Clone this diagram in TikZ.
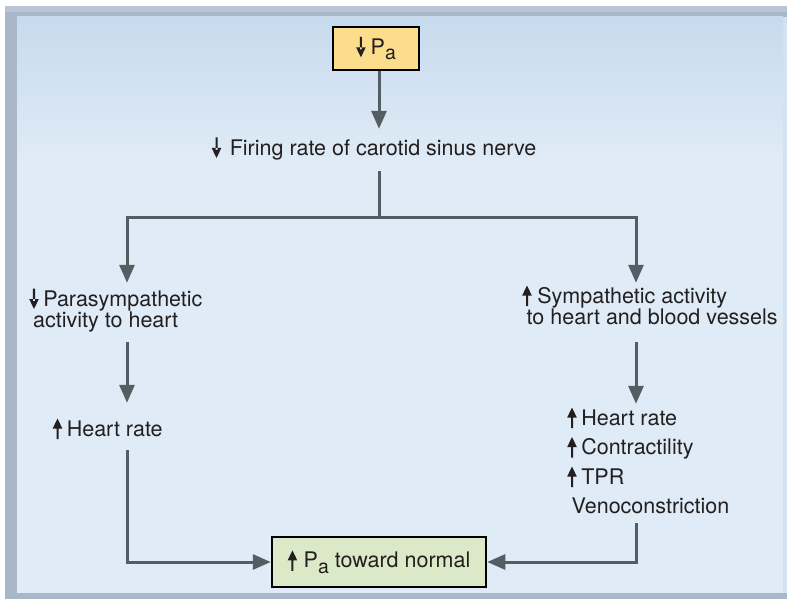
\documentclass[tikz,border=0pt]{standalone}
\usepackage{fontspec}
\setmainfont{TeX Gyre Heros}
\usetikzlibrary{arrows.meta}

\definecolor{ink}{HTML}{231F20}
\definecolor{flowcol}{HTML}{535D64}
\definecolor{paneltop}{HTML}{C8DAEE}
\definecolor{panel}{HTML}{DFEBF6}
\definecolor{rim}{HTML}{A9B8C8}
\definecolor{rimlight}{HTML}{B7C5D4}
\definecolor{rimright}{HTML}{D3E1F0}
\definecolor{startfill}{HTML}{FCDD8B}
\definecolor{endfill}{HTML}{DCE9C9}

% small up / down arrows used inside the labels
\newsavebox\upglyph
\newsavebox\downglyph
% lowered "a" of P_a
\newcommand\subA{\raisebox{-5.5pt}{\fontsize{19.5}{19.5}\selectfont a}}

\begin{document}
\sbox\upglyph{\begin{pgfpicture}%
  \pgfsetfillcolor{ink}%
  \pgfpathrectangle{\pgfpoint{-1pt}{-3pt}}{\pgfpoint{2pt}{12pt}}%
  \pgfpathmoveto{\pgfpoint{-4.8pt}{7.5pt}}%
  \pgfpathlineto{\pgfpoint{4.8pt}{7.5pt}}%
  \pgfpathlineto{\pgfpoint{0pt}{17.5pt}}%
  \pgfpathclose
  \pgfusepath{fill}%
  \pgfsetbaseline{0pt}%
\end{pgfpicture}}
\sbox\downglyph{\begin{pgfpicture}%
  \pgfsetfillcolor{ink}%
  \pgfpathrectangle{\pgfpoint{-1pt}{5pt}}{\pgfpoint{2pt}{12.5pt}}%
  \pgfpathmoveto{\pgfpoint{-4.8pt}{7pt}}%
  \pgfpathlineto{\pgfpoint{4.8pt}{7pt}}%
  \pgfpathlineto{\pgfpoint{0pt}{-3pt}}%
  \pgfpathclose
  \pgfusepath{fill}%
  \pgfsetbaseline{0pt}%
\end{pgfpicture}}

\begin{tikzpicture}[x=1pt,y=-1pt,
  every node/.style={font=\fontsize{21.5}{21.5}\selectfont, text=ink},
  txtnode/.style={inner sep=0pt, align=left, anchor=base west},
  boxnode/.style={draw=black, line width=2.8pt, inner sep=0pt},
  flow/.style={draw=flowcol, line width=3pt, -{Triangle[length=18pt,width=15pt]}},
  link/.style={draw=flowcol, line width=3pt},
]
\useasboundingbox (0,0) rectangle (787,599);

% panel background
\fill[white] (0,0) rectangle (787,599);
\fill[rim] (5,6) rectangle (787,599);
\fill[rimlight] (5,6) rectangle (787,12);
\fill[panel] (17,17) rectangle (787,593);
\fill[rimright] (783,17) rectangle (787,593);
\shade[top color=paneltop, bottom color=panel] (17,17) rectangle (783,160);

% nodes (multi-line labels are placed by the baseline of their last line)
\node[boxnode, fill=startfill, minimum width=86pt, minimum height=43pt] (pa) at (376,48.5)
  {\usebox\downglyph\hspace{5pt}P\subA};
\node[txtnode] (firing) at (211.5,155)
  {\usebox\downglyph\hspace{8.5pt}Firing rate of carotid sinus nerve};
\node[txtnode] (para) at (29,327.5)
  {\usebox\downglyph\hspace{4.5pt}Parasympathetic\\\hspace*{4pt}activity to heart};
\node[txtnode] (hrl) at (52.5,436)
  {\usebox\upglyph\hspace{4.5pt}Heart rate};
\node[txtnode] (symp) at (522,324.5)
  {\usebox\upglyph\hspace{5.5pt}Sympathetic activity\\\hspace*{4.5pt}to heart and blood vessels};
\node[txtnode, font=\fontsize{21.5}{29.5}\selectfont] (effects) at (567,513.5)
  {\usebox\upglyph\hspace{4.5pt}Heart rate\\
   \usebox\upglyph\hspace{4.5pt}Contractility\\
   \usebox\upglyph\hspace{4.5pt}TPR\\
   \hspace*{4.5pt}Venoconstriction};
\node[boxnode, line width=2.5pt, fill=endfill, minimum width=214pt, minimum height=50pt] (goal) at (379,562)
  {\usebox\upglyph\hspace{6.5pt}P\subA\ toward normal};

% branch points
\coordinate (split) at (379,217);
\coordinate (lsplit) at (127,217);
\coordinate (rsplit) at (636,217);

% connectors
\draw[flow, shorten >=8.5pt] (pa.south -| split) -- (firing.north -| split);
\draw[link, shorten <=11pt] (firing.south -| split) -- (split);
\draw[flow, shorten >=5.5pt] (split) -| (para.north -| lsplit);
\draw[flow, shorten >=2.5pt] (split) -| (symp.north -| rsplit);
\draw[flow, shorten <=10pt, shorten >=15.5pt] (para.south -| lsplit) -- (hrl.north -| lsplit);
\draw[flow, shorten <=11pt] (hrl.south -| lsplit) |- (goal.west);
\draw[flow, shorten <=17pt, shorten >=3.5pt] (symp.south -| rsplit) -- (effects.north -| rsplit);
\draw[flow, shorten <=9pt] (effects.south -| rsplit) |- (goal.east);
\end{tikzpicture}
\end{document}
